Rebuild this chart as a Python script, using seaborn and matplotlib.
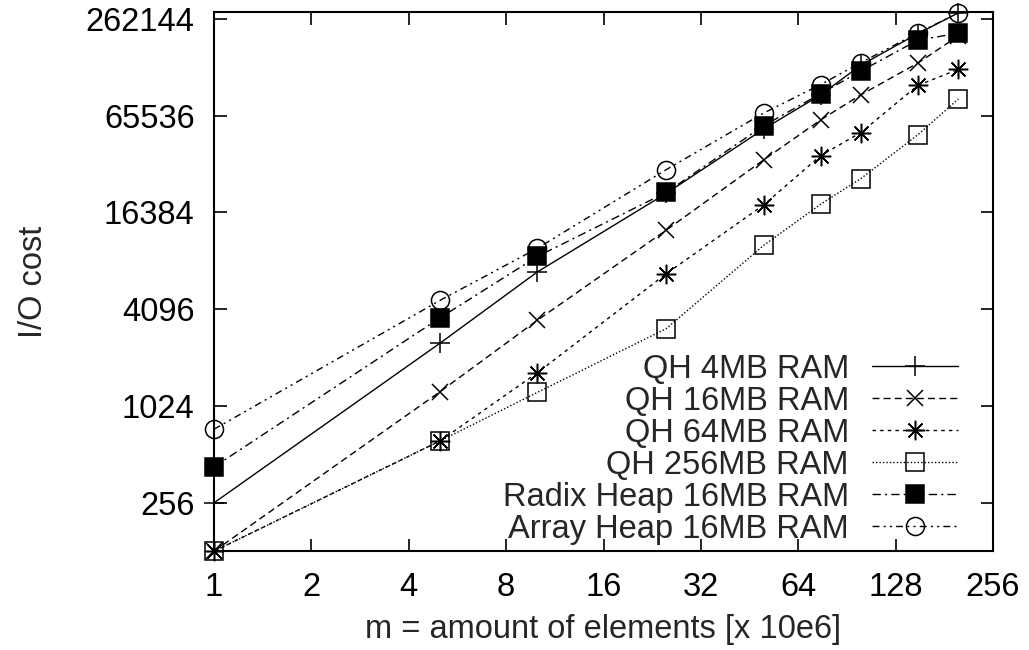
import numpy as np
import pandas as pd
import matplotlib
matplotlib.use('Agg')
import matplotlib.pyplot as plt
import seaborn as sns

# elements in millions
x_vals = [1, 5, 10, 25, 50, 75, 100, 150, 200]

qh_4mb = [256, 2520, 6990, 21500, 54000, 88000, 135000, 212000, 285000]
qh_16mb = [128, 1257, 3500, 12700, 34700, 61500, 88300, 139000, 205000]
qh_64mb = [128, 621, 1650, 6800, 18200, 36900, 51400, 101000, 127000]
qh_256mb = [128, 621, 1245, 3100, 10200, 18400, 26600, 49800, 83000]
radix_16mb = [428, 3620, 8720, 21800, 56600, 89600, 124000, 193000, 213000]
array_16mb = [734, 4650, 9800, 30200, 67900, 102000, 140000, 214000, 285000]

labels = ['QH 4MB RAM', 'QH 16MB RAM', 'QH 64MB RAM', 'QH 256MB RAM',
          'Radix Heap 16MB RAM', 'Array Heap 16MB RAM']
series = [qh_4mb, qh_16mb, qh_64mb, qh_256mb, radix_16mb, array_16mb]

x_ticks = [1, 2, 4, 8, 16, 32, 64, 128, 256]
y_ticks = [256, 1024, 4096, 16384, 65536, 262144]

styles = [
    dict(linestyle='-', marker='+', markersize=15, mfc='none'),
    dict(linestyle=(0, (5, 3)), marker='x', markersize=11, mfc='none'),
    dict(linestyle=(0, (2.5, 3)), marker=(8, 2, 0), markersize=14, mfc='none'),
    dict(linestyle=(0, (1, 1.5)), marker='s', markersize=13, mfc='none'),
    dict(linestyle=(0, (6, 3, 1.5, 3)), marker='s', markersize=13, mfc='black'),
    dict(linestyle=(0, (5, 3, 1.5, 3, 1.5, 3)), marker='o', markersize=13, mfc='none'),
]

FS = 23.5

sns.set_style('ticks')
plt.rcParams['font.family'] = ['Liberation Sans', 'DejaVu Sans']
plt.rcParams['font.size'] = FS

fig, ax = plt.subplots(figsize=(10.29, 6.5), dpi=100)
fig.subplots_adjust(left=0.208, right=0.965, top=0.982, bottom=0.152)

for lab, vals, st in zip(labels, series, styles):
    df = pd.DataFrame({'m': x_vals, 'io': vals})
    sns.lineplot(data=df, x='m', y='io', ax=ax, color='black', linewidth=1.0,
                 mec='black', mew=1.1, label=lab, clip_on=False, **st)

ax.set_xscale('log', base=2)
ax.set_yscale('log', base=2)
ax.set_xlim(1, 256)
ax.set_ylim(128, 290000)
ax.set_xticks(x_ticks)
ax.set_xticklabels([str(t) for t in x_ticks])
ax.set_yticks(y_ticks)
ax.set_yticklabels([str(t) for t in y_ticks])
ax.minorticks_off()
ax.tick_params(direction='in', length=9, width=1.2, top=True, right=True,
               labelsize=FS, colors='black')
ax.tick_params(axis='y', pad=14)
ax.tick_params(axis='x', pad=15)
for sp in ax.spines.values():
    sp.set_visible(True)
    sp.set_linewidth(1.5)
    sp.set_color('black')

ax.set_xlabel('m = amount of elements [x 10e6]', fontsize=FS, labelpad=8)
ax.set_ylabel('I/O cost', fontsize=FS, labelpad=26)

leg = ax.legend(loc='lower right', markerfirst=False, frameon=False,
                handlelength=2.65, handletextpad=0.7, labelspacing=0.03,
                borderaxespad=0.0, fontsize=FS, bbox_to_anchor=(0.972, -0.012))
# right-justify legend text like gnuplot
for col in leg._legend_handle_box.get_children():
    col.align = 'right'

fig.savefig('out.png', dpi=100)
